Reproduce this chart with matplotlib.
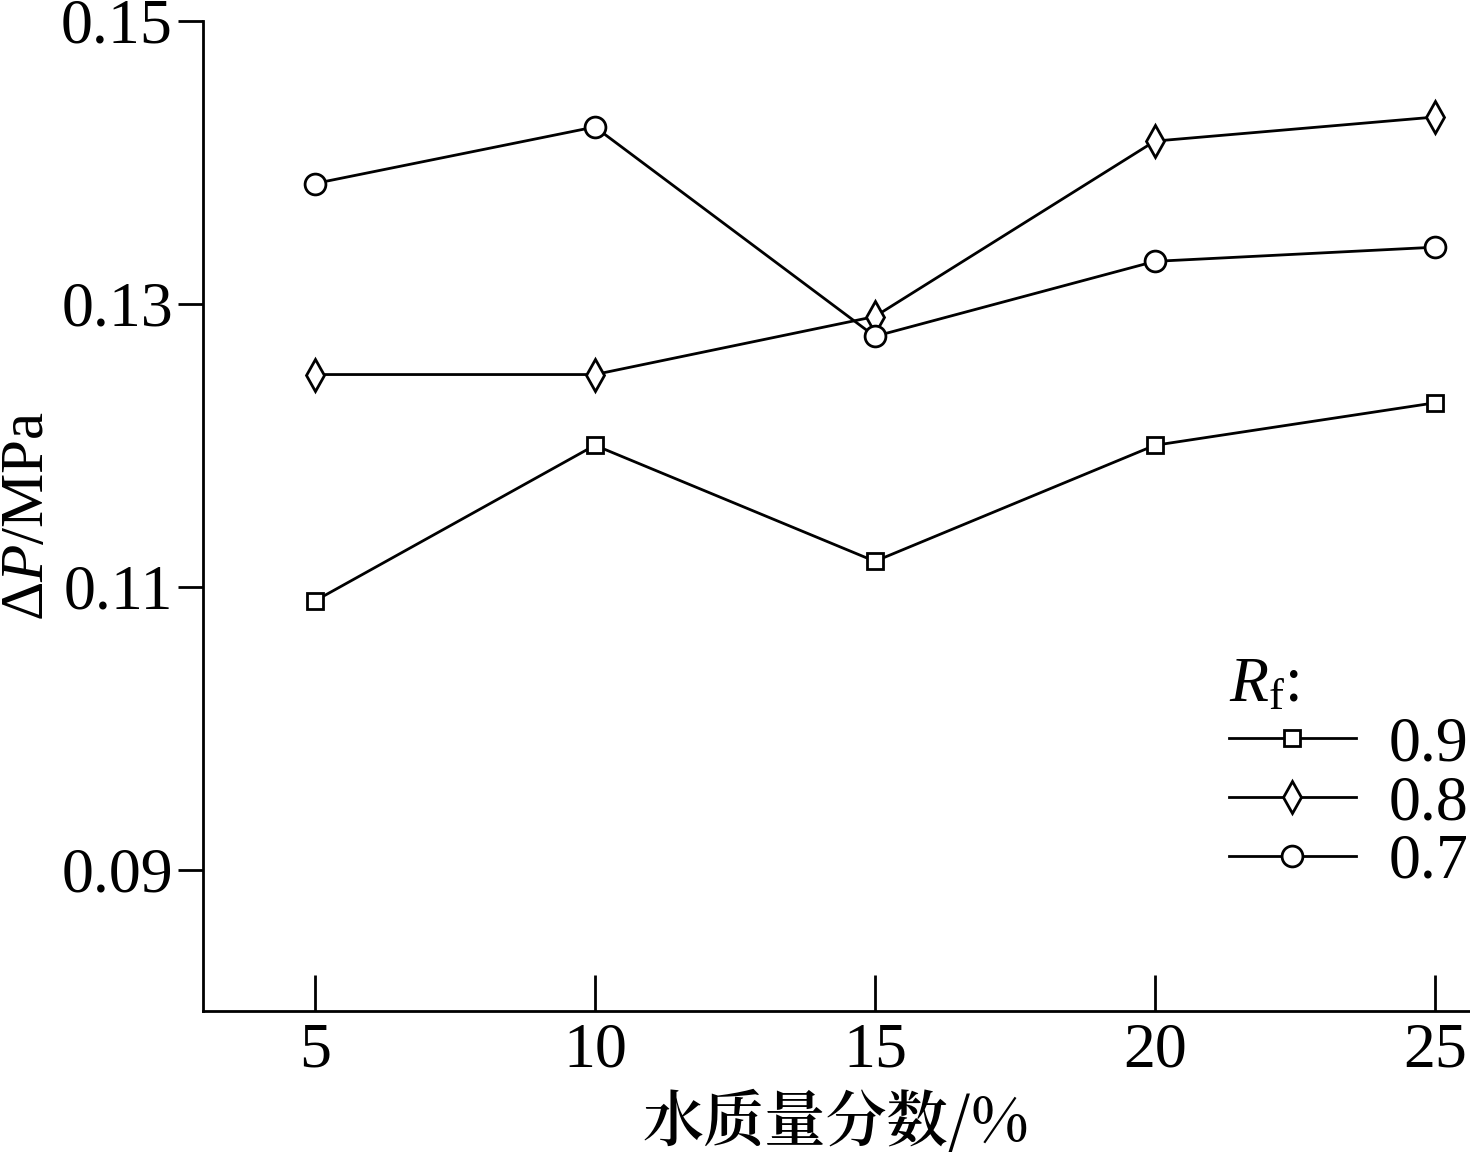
import matplotlib.pyplot as plt
from matplotlib import font_manager

x = [5, 10, 15, 20, 25]
rf_labels = ["0.9", "0.8", "0.7"]
dp_09 = [0.1090, 0.1200, 0.1118, 0.1200, 0.1230]
dp_08 = [0.1250, 0.1250, 0.1291, 0.1415, 0.1432]
dp_07 = [0.1385, 0.1425, 0.1277, 0.1330, 0.1340]

plt.rcParams["font.family"] = "Liberation Serif"
plt.rcParams["mathtext.fontset"] = "custom"
plt.rcParams["mathtext.rm"] = "Liberation Serif"
plt.rcParams["mathtext.it"] = "Liberation Serif:italic"

cjk = None
for f in font_manager.fontManager.ttflist:
    if "CJK" in f.name:
        cjk = f.fname
        if "SC" in f.name:
            break

fig = plt.figure(figsize=(14.7, 11.57), dpi=100)
ax = fig.add_axes([0.138, 0.126, 0.861, 0.856])

ax.plot(x, dp_09, marker="s", ms=11, color="black", lw=2, mfc="white", mew=2, label=rf_labels[0])
ax.plot(x, dp_08, marker="d", ms=16, color="black", lw=2, mfc="white", mew=2, label=rf_labels[1])
ax.plot(x, dp_07, marker="o", ms=15, color="black", lw=2, mfc="white", mew=2, label=rf_labels[2])

ax.set_xlim(3.0, 25.6)
ax.set_ylim(0.08, 0.15)
ax.set_xticks(x)
ax.set_yticks([0.09, 0.11, 0.13, 0.15])
ax.set_yticklabels(["0.09", "0.11", "0.13", "0.15"])
ax.spines["top"].set_visible(False)
ax.spines["right"].set_visible(False)
for s in ("left", "bottom"):
    ax.spines[s].set_linewidth(2)
ax.tick_params(axis="x", direction="in", length=26, width=2, labelsize=46, pad=8)
ax.tick_params(axis="y", direction="out", length=18, width=2, labelsize=46)

ax.set_ylabel(r"$\Delta$$\it{P}$/MPa", fontsize=44, labelpad=4)
fp = font_manager.FontProperties(fname=cjk, size=44) if cjk else None
ax.set_xlabel("水质量分数/%", fontproperties=fp, labelpad=8)

leg = ax.legend(loc="upper left", bbox_to_anchor=(0.765, 0.415), frameon=False,
                fontsize=46, title=r"$R_{\rm f}$:", title_fontsize=46,
                handlelength=2.0, handletextpad=0.5, labelspacing=0.0)
leg._legend_box.align = "left"

fig.savefig("out.png", dpi=100)
